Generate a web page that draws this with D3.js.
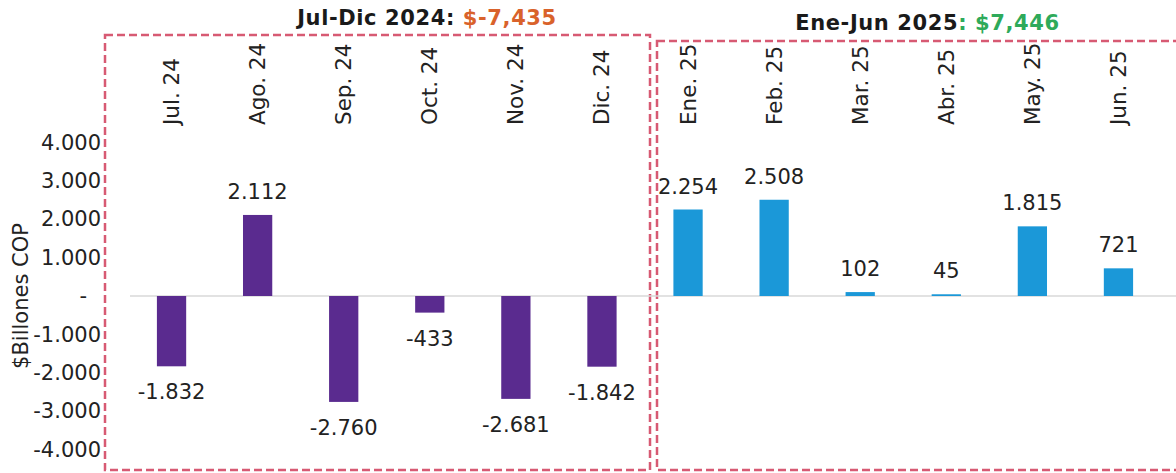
<!DOCTYPE html>
<html><head><meta charset="utf-8">
<script src="https://cdn.jsdelivr.net/npm/d3@7"></script>
<style>body{margin:0;background:#fff;} svg{display:block;font-family:"DejaVu Sans",Verdana,sans-serif;}</style>
</head><body>
<svg id="c" width="1176" height="473"></svg>
<script>
const months = ["Jul. 24","Ago. 24","Sep. 24","Oct. 24","Nov. 24","Dic. 24","Ene. 25","Feb. 25","Mar. 25","Abr. 25","May. 25","Jun. 25"];
const values = [-1832, 2112, -2760, -433, -2681, -1842, 2254, 2508, 102, 45, 1815, 721];
const period = [2024,2024,2024,2024,2024,2024,2025,2025,2025,2025,2025,2025];
const yTicks = [4000,3000,2000,1000,0,-1000,-2000,-3000,-4000];
const groupTitles = [
  {label:"Jul-Dic 2024: ", total:"$-7,435", color:"#d9622b"},
  {label:"Ene-Jun 2025", total:": $7,446", color:"#2eaa5a"}
];
const yLabel = "$Billones COP";

const svg = d3.select("#c");
const loc = d3.formatLocale({decimal:",", thousands:".", grouping:[3], currency:["$",""], minus:"-"});
const fmt = loc.format(",d");

const x = d3.scaleBand().domain(months).range([128.5, 1161.5]).paddingInner(0.66).paddingOuter(0.33);
const y = d3.scaleLinear().domain([-4000, 4000]).range([449.5, 142.5]);

// dashed group boxes
const dash = "#d75a73";
svg.append("rect").attr("x",105).attr("y",35).attr("width",545).attr("height",435)
  .attr("fill","none").attr("stroke",dash).attr("stroke-width",2.5).attr("stroke-dasharray","8,4");
svg.append("rect").attr("x",657).attr("y",41).attr("width",540).attr("height",429)
  .attr("fill","none").attr("stroke",dash).attr("stroke-width",2.5).attr("stroke-dasharray","8,4");

// zero line
svg.append("line").attr("x1",130).attr("x2",1176).attr("y1",y(0)).attr("y2",y(0))
  .attr("stroke","#d9d9d9").attr("stroke-width",1.5);

// y axis
const yAxis = d3.axisLeft(y).tickValues(yTicks).tickSize(0).tickPadding(0)
  .tickFormat(d => d === 0 ? "-" : fmt(d));
const gy = svg.append("g").attr("transform","translate(101,0)").call(yAxis);
gy.select(".domain").remove();
gy.selectAll("text").attr("font-size",21).attr("fill","#222").attr("font-family","DejaVu Sans, Verdana, sans-serif")
  .attr("dx", d => d === 0 ? -14 : 0);

svg.append("text").attr("transform","translate(28,296) rotate(-90)").attr("text-anchor","middle")
  .attr("font-size",21).attr("fill","#222").text(yLabel);

// month labels
const xAxis = d3.axisTop(x).tickSize(0).tickPadding(0);
const gx = svg.append("g").attr("transform","translate(0,125)").call(xAxis);
gx.select(".domain").remove();
gx.selectAll("text").attr("font-size",21.5).attr("fill","#222").attr("font-family","DejaVu Sans, Verdana, sans-serif")
  .attr("transform","rotate(-90)").attr("text-anchor","start").attr("x",0).attr("y",0).attr("dy","0.35em");

// bars
svg.selectAll("rect.bar").data(values).join("rect").attr("class","bar")
  .attr("x",(d,i)=>x(months[i])).attr("width",x.bandwidth())
  .attr("y",d=>y(Math.max(0,d))).attr("height",d=>Math.abs(y(d)-y(0)))
  .attr("fill",(d,i)=> period[i]===2024 ? "#5a2b8f" : "#1b98d8");

// value labels
svg.selectAll("text.val").data(values).join("text").attr("class","val")
  .attr("x",(d,i)=>x(months[i])+x.bandwidth()/2)
  .attr("y",d=> d>=0 ? y(d)-16 : y(d)+33)
  .attr("text-anchor","middle").attr("font-size",21).attr("fill","#222").text(d=>fmt(d));

// titles
const tx = [427, 927.5], ty = [25, 30];
groupTitles.forEach((g,i)=>{
  const t = svg.append("text").attr("x",tx[i]).attr("y",ty[i]).attr("text-anchor","middle")
    .attr("font-size",21).attr("font-weight","bold").attr("letter-spacing",0.6);
  t.append("tspan").attr("fill","#1a1a1a").text(g.label);
  t.append("tspan").attr("fill",g.color).text(g.total);
});
</script>
</body></html>
